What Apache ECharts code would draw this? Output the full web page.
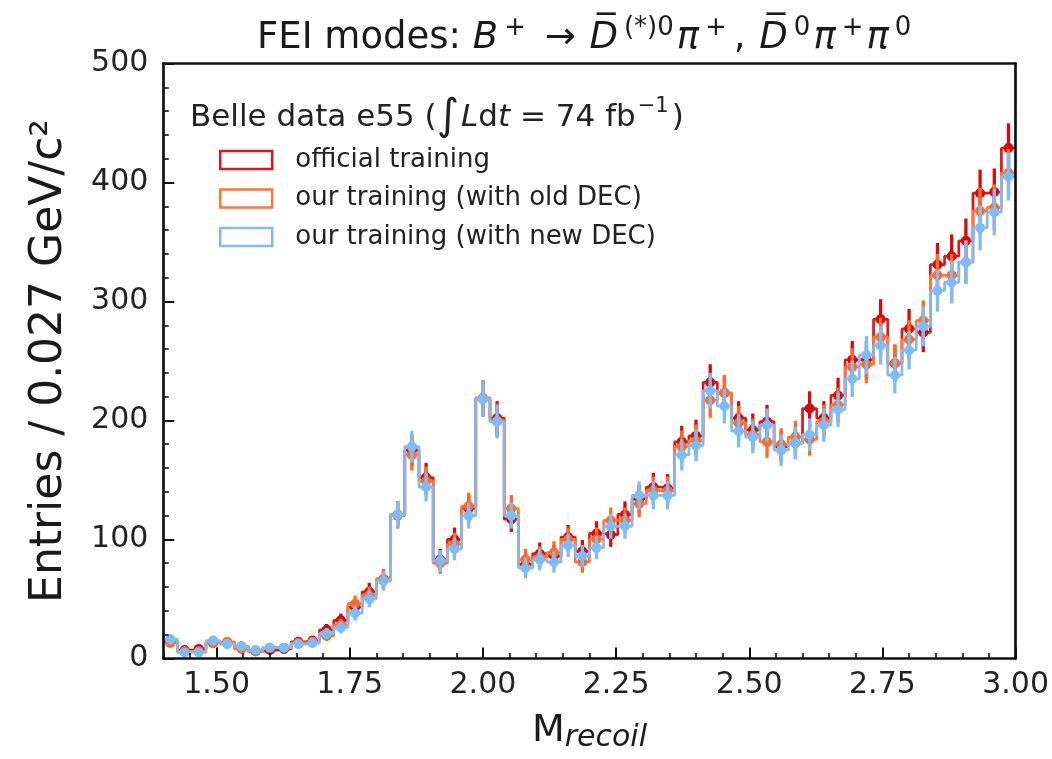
<!DOCTYPE html>
<html><head><meta charset="utf-8">
<script src="https://cdn.jsdelivr.net/npm/echarts@6/dist/echarts.min.js"></script>
<style>html,body{margin:0;padding:0;background:#fff}#c{width:1052px;height:759px}</style>
</head><body><div id="c"></div>
<script>
// ---------- data ----------
const binEdgeMin = 1.4;
const binEdgeMax = 3.0;
const seriesNames = ['official training', 'our training (with old DEC)', 'our training (with new DEC)'];
const officialTraining = [14,7,8,13,13,10,6,7,8,14,15,24,32,43,56,66,121,175,152,83,100,126,218,202,117,79,88,86,102,90,105,104,121,134,144,143,182,187,232,223,202,192,199,178,181,210,202,221,251,251,285,248,277,274,331,338,351,391,392,429];
const oldDecTraining   = [13,6,6,13,14,8,6,9,9,13,14,19,28,46,53,67,120,171,149,80,96,128,219,200,126,83,85,89,100,81,100,116,116,130,141,141,178,183,217,223,198,188,182,180,186,184,199,213,245,247,270,248,268,284,322,322,333,376,379,408];
const newDecTraining   = [16,5,5,15,12,10,7,9,9,12,13,21,26,38,50,65,121,178,144,82,92,120,218,199,120,76,83,81,95,86,93,111,111,137,137,137,171,179,225,212,191,186,196,175,181,188,196,209,235,255,263,238,259,279,309,316,333,362,375,405];
const xTickValues = [1.50, 1.75, 2.00, 2.25, 2.50, 2.75, 3.00];
const xMinorStep = 0.05;
const yMin = 0, yMax = 500, yStep = 100;

// ---------- styles ----------
const lineColors   = ['#e3141c', '#ff7438', '#86b8ee'];
const markerColors = ['#d60a0a', '#ff6a26', '#7dbdf7'];
const FONT = 'DejaVu Sans';

// ---------- build tables ----------
const allSets = [officialTraining, oldDecTraining, newDecTraining];
const nBins = officialTraining.length;
const binW = (binEdgeMax - binEdgeMin) / nBins;
function stepData(vals) {
  const out = [];
  vals.forEach((v, k) => {
    out.push([binEdgeMin + k * binW, v]);
    out.push([binEdgeMin + (k + 1) * binW, v]);
  });
  return out;
}
function pointData(vals) {
  return vals.map((v, k) => [binEdgeMin + (k + 0.5) * binW, v, Math.sqrt(v)]);
}

const series = [];
allSets.forEach((vals, i) => {
  series.push({
    name: seriesNames[i], type: 'line', data: stepData(vals),
    showSymbol: false, symbol: 'none', animation: false,
    lineStyle: { color: lineColors[i], width: 2.7 }, itemStyle: { color: lineColors[i] },
    z: 2 + i * 3
  });
  series.push({
    name: seriesNames[i] + ' err', type: 'custom', data: pointData(vals),
    encode: { x: 0, y: 1 }, animation: false, z: 3 + i * 3,
    renderItem: (params, api) => {
      const x = api.value(0), y = api.value(1), e = api.value(2);
      const a = api.coord([x, y - e]), b = api.coord([x, y + e]);
      return { type: 'line', shape: { x1: a[0], y1: a[1], x2: b[0], y2: b[1] },
        style: { stroke: markerColors[i], lineWidth: 3.3 } };
    }
  });
  series.push({
    name: seriesNames[i] + ' pts', type: 'scatter', data: pointData(vals).map(d => [d[0], d[1]]),
    symbol: 'circle', symbolSize: 10, animation: false, z: 4 + i * 3,
    itemStyle: { color: markerColors[i], opacity: 1 }
  });
});

const chart = echarts.init(document.getElementById('c'), null, { renderer: 'canvas' });
const frame = { show: true, lineStyle: { color: '#111', width: 2.7 } };
const TC = '#1a1a1a';
chart.setOption({
  animation: false,
  backgroundColor: '#fff',
  textStyle: { fontFamily: FONT },
  title: [
    {
      left: 257, top: 15, padding: 0,
      text: 'FEI modes: {i|B}{sup|+}{n| → }{i|D\u0305}{sup|(*)0}{i|π}{sup|+}{n|, }{i|D\u0305}{sup|0}{i|π}{sup|+}{i|π}{sup|0}',
      textStyle: {
        fontFamily: FONT, fontSize: 37, fontWeight: 'normal', color: TC, lineHeight: 46,
        rich: {
          n: { fontFamily: FONT, fontSize: 37, lineHeight: 46, color: TC, padding: [0, 2, 0, 4] },
          i: { fontFamily: FONT, fontStyle: 'italic', fontSize: 37, lineHeight: 46, color: TC },
          sup: { fontFamily: FONT, fontSize: 26, verticalAlign: 'top', lineHeight: 24, color: TC, padding: [0, 3, 0, 6] }
        }
      }
    },
    {
      left: 190, top: 96, padding: 0,
      text: '{n|Belle data e55 (}{int|∫}{i|L}{n|d}{i|t}{n| = 74 fb}{sup|−1}{n|)}',
      textStyle: {
        fontFamily: FONT, fontSize: 31, fontWeight: 'normal', color: '#222', lineHeight: 44,
        rich: {
          n: { fontFamily: FONT, fontSize: 31, lineHeight: 44, color: '#222' },
          i: { fontFamily: FONT, fontStyle: 'italic', fontSize: 31, lineHeight: 44, color: '#222' },
          int: { fontFamily: FONT, fontSize: 43, lineHeight: 44, color: '#222', padding: [0, 2, 0, 0] },
          sup: { fontFamily: FONT, fontSize: 21, verticalAlign: 'top', lineHeight: 20, color: '#222', padding: [0, 3, 0, 2] }
        }
      }
    }
  ],
  legend: {
    orient: 'vertical', left: 219, top: 147, padding: 0,
    itemWidth: 52, itemHeight: 18, itemGap: 12.5,
    icon: 'rect',
    data: seriesNames.map((n, i) => ({
      name: n, icon: 'rect',
      itemStyle: { color: 'rgba(0,0,0,0)', borderColor: lineColors[i], borderWidth: 2.5 }
    })),
    textStyle: { fontFamily: FONT, fontSize: 26, color: '#222', padding: [0, 0, 0, 18] },
    selectedMode: false
  },
  grid: { left: 163.3, right: 34.5, top: 63.5, bottom: 100.6, containLabel: false },
  xAxis: [
    {
      type: 'value', min: binEdgeMin, max: binEdgeMax, position: 'bottom', z: 20,
      axisLine: frame,
      axisTick: { show: true, inside: true, length: 11, customValues: xTickValues, lineStyle: { color: '#111', width: 2 } },
      axisLabel: { show: true, customValues: xTickValues, formatter: v => v.toFixed(2), fontFamily: FONT, fontSize: 30, color: '#222', margin: 12 },
      splitLine: { show: false },
      name: '{m|M}{s|recoil}', nameLocation: 'middle', nameGap: 51,
      nameTextStyle: {
        fontFamily: FONT, fontSize: 38, color: TC, lineHeight: 44,
        rich: {
          m: { fontFamily: FONT, fontSize: 38, lineHeight: 44, color: TC },
          s: { fontFamily: FONT, fontStyle: 'italic', fontSize: 30, lineHeight: 21, verticalAlign: 'bottom', color: TC }
        }
      }
    },
    {
      type: 'value', min: binEdgeMin, max: binEdgeMax, interval: xMinorStep, position: 'bottom', z: 19,
      axisLine: { show: false },
      axisTick: { show: true, inside: true, length: 5.5, lineStyle: { color: '#111', width: 1.6 } },
      axisLabel: { show: false }, splitLine: { show: false }
    },
    {
      type: 'value', min: binEdgeMin, max: binEdgeMax, position: 'top', z: 20,
      axisLine: frame, axisTick: { show: false }, axisLabel: { show: false }, splitLine: { show: false }
    }
  ],
  yAxis: [
    {
      type: 'value', min: yMin, max: yMax, interval: yStep, position: 'left', z: 20,
      axisLine: frame,
      axisTick: { show: true, inside: true, length: 11, lineStyle: { color: '#111', width: 2 } },
      minorTick: { show: true, splitNumber: 5, length: 5.5, lineStyle: { color: '#111', width: 1.6 } },
      axisLabel: { fontFamily: FONT, fontSize: 30, color: '#222', margin: 15 },
      splitLine: { show: false }, minorSplitLine: { show: false },
      name: 'Entries / 0.027 GeV/c²', nameLocation: 'middle', nameGap: 92, nameRotate: 90,
      nameTextStyle: { fontFamily: FONT, fontSize: 44, color: TC }
    },
    {
      type: 'value', min: yMin, max: yMax, position: 'right', z: 20,
      axisLine: frame, axisTick: { show: false }, axisLabel: { show: false }, splitLine: { show: false }
    }
  ],
  series: series
});
</script>
</body></html>
